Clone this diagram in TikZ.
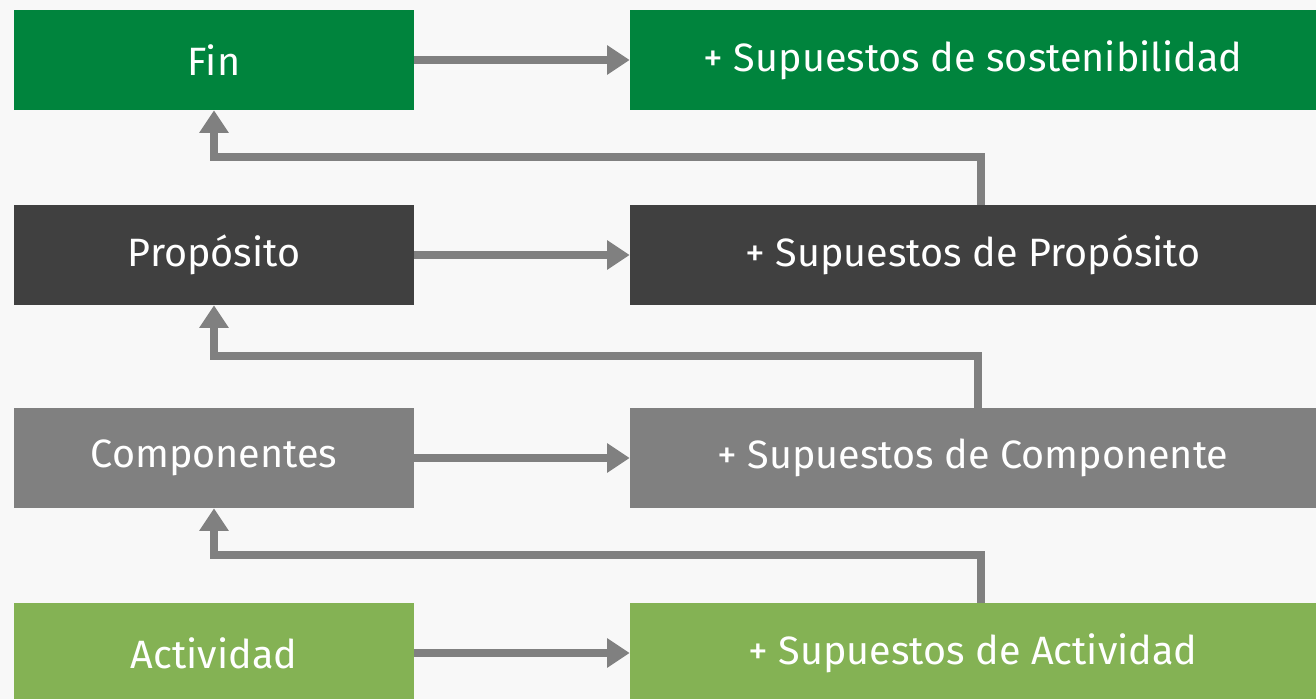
\documentclass[tikz,border=0pt]{standalone}
\usepackage{fontspec}
\setmainfont{Fira Sans}
\usetikzlibrary{arrows.meta}
\definecolor{finGreen}{HTML}{00843D}
\definecolor{propDark}{HTML}{404040}
\definecolor{compGray}{HTML}{808080}
\definecolor{actGreen}{HTML}{84B254}
\definecolor{lineGray}{HTML}{808080}
\definecolor{bgGray}{HTML}{F8F8F8}
\tikzset{
  levelbox/.style={minimum width=8cm, minimum height=2cm, inner sep=0pt,
    text=white, font=\fontsize{22.5}{26}\selectfont},
  assumbox/.style={levelbox, minimum width=13.72cm},
  flow/.style={draw=lineGray, line width=0.16cm,
    -{Triangle[length=0.45cm,width=0.56cm]}}
}
\begin{document}
\begin{tikzpicture}
  \useasboundingbox[fill=bgGray] (0,0) rectangle (26.32,13.98);
  \node[levelbox, fill=finGreen] (F) at (4.28,12.78) {Fin};
  \node[assumbox, fill=finGreen] (SF) at (19.46,12.78) {+ Supuestos de sostenibilidad};
  \node[levelbox, fill=propDark] (P) at (4.28,8.88) {Propósito};
  \node[assumbox, fill=propDark] (SP) at (19.46,8.88) {+ Supuestos de Propósito};
  \node[levelbox, fill=compGray] (C) at (4.28,4.82) {Componentes};
  \node[assumbox, fill=compGray] (SC) at (19.46,4.82) {+ Supuestos de Componente};
  \node[levelbox, fill=actGreen] (A) at (4.28,0.92) {Actividad};
  \node[assumbox, fill=actGreen] (SA) at (19.46,0.92) {+ Supuestos de Actividad};
  \coordinate (KF) at (19.62,10.84);
  \coordinate (KP) at (19.56,6.86);
  \coordinate (KC) at (19.62,2.88);
  \draw[flow] (F) -- (SF);
  \draw[flow] (P) -- (SP);
  \draw[flow] (C) -- (SC);
  \draw[flow] (A) -- (SA);
  \draw[flow] (SP.north -| KF) -- (KF) -| (F.south);
  \draw[flow] (SC.north -| KP) -- (KP) -| (P.south);
  \draw[flow] (SA.north -| KC) -- (KC) -| (C.south);
\end{tikzpicture}
\end{document}
